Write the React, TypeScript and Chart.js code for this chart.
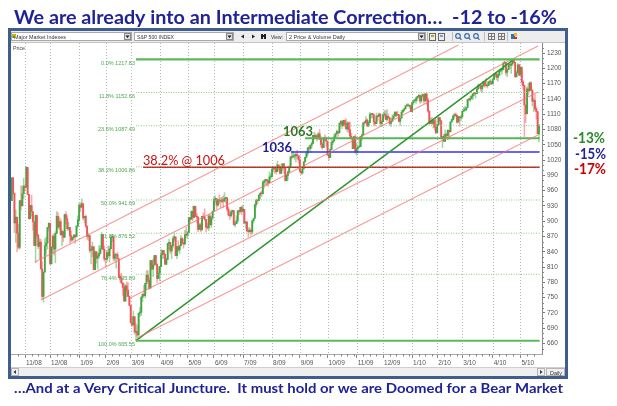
import React, { useEffect, useRef } from 'react';
import { Chart, registerables } from 'chart.js';

Chart.register(...registerables);

// ---------------- data ----------------
const monthLabels = ['10/08', '11/08', '12/08', '1/09', '2/09', '3/09', '4/09', '5/09', '6/09', '7/09', '8/09', '9/09', '10/09', '11/09', '12/09', '1/10', '2/10', '3/10', '4/10', '5/10'];
const tradingDaysPerMonth = [10, 19, 22, 20, 19, 22, 21, 20, 22, 22, 21, 21, 22, 20, 22, 19, 19, 23, 21, 15];
const firstOpen = 940.55;

const closes = [
  985.40, 955.05, 896.78, 908.11, 876.77, 848.92, 940.51, 930.09, 954.09, 968.75,
  966.30, 1005.75, 952.77, 904.88, 930.99, 919.21, 898.95, 852.30, 911.29, 873.29, 850.75, 859.12, 806.58, 752.44, 800.03, 851.81, 857.39, 887.68, 896.24,
  816.21, 848.81, 870.74, 845.22, 876.07, 909.70, 888.67, 899.24, 873.59, 879.73, 868.57, 913.18, 904.42, 885.28, 887.88, 871.63, 863.16, 868.15, 872.80, 869.42, 890.64, 903.25,
  931.80, 927.45, 934.70, 906.65, 909.73, 890.35, 870.26, 871.79, 842.62, 843.74, 850.12, 805.22, 840.24, 827.50, 831.95, 836.57, 845.71, 874.09, 845.14, 825.88,
  825.44, 838.51, 832.23, 845.85, 868.60, 869.89, 827.16, 833.74, 835.19, 826.84, 789.17, 788.42, 778.94, 770.05, 743.33, 773.14, 764.90, 752.83, 735.09,
  700.82, 696.33, 712.87, 682.55, 683.38, 676.53, 719.60, 721.36, 750.74, 756.55, 753.89, 778.12, 794.35, 784.04, 768.54, 822.92, 806.12, 813.88, 832.86, 815.94, 787.53, 797.87,
  811.08, 834.38, 842.50, 835.48, 815.55, 825.16, 856.56, 858.73, 841.50, 852.06, 865.30, 869.60, 832.39, 850.08, 843.55, 851.92, 866.23, 857.51, 855.16, 873.64, 872.81,
  877.52, 907.24, 903.80, 919.53, 907.39, 929.23, 909.24, 908.35, 883.92, 893.07, 882.88, 909.71, 908.13, 903.47, 888.33, 887.00, 910.33, 893.06, 906.83, 919.14,
  942.87, 944.74, 931.76, 942.46, 940.09, 939.14, 942.43, 939.15, 944.89, 946.21, 923.72, 911.97, 910.71, 918.37, 921.23, 893.04, 895.10, 900.94, 920.26, 918.90, 927.23, 919.32,
  923.33, 896.42, 898.72, 881.03, 879.56, 882.68, 879.13, 901.05, 905.84, 932.68, 940.74, 940.38, 951.13, 954.58, 954.07, 976.29, 979.26, 982.18, 979.62, 975.15, 986.75, 987.48,
  1002.63, 1005.65, 1002.72, 997.08, 1010.48, 1007.10, 994.35, 1005.81, 1012.73, 1004.09, 979.73, 989.67, 996.46, 1007.37, 1026.13, 1025.57, 1028.00, 1028.12, 1030.98, 1028.93, 1020.62,
  998.04, 994.75, 1003.24, 1016.40, 1025.39, 1033.37, 1044.14, 1042.73, 1049.34, 1052.63, 1068.76, 1065.49, 1068.30, 1064.66, 1071.66, 1060.87, 1050.78, 1044.38, 1062.98, 1060.61, 1057.08,
  1029.85, 1025.21, 1040.46, 1054.72, 1057.58, 1065.48, 1071.49, 1076.19, 1073.19, 1092.02, 1096.56, 1087.68, 1097.91, 1091.06, 1081.40, 1092.91, 1079.60, 1066.95, 1063.41, 1042.63, 1066.11, 1036.19,
  1042.88, 1045.41, 1046.50, 1066.63, 1069.30, 1093.08, 1093.01, 1098.51, 1087.24, 1093.48, 1109.30, 1110.32, 1109.80, 1094.90, 1091.38, 1106.24, 1105.65, 1110.63, 1091.49, 1095.63,
  1108.86, 1109.24, 1099.92, 1105.98, 1103.25, 1091.94, 1095.95, 1102.35, 1106.41, 1114.11, 1107.93, 1109.18, 1096.08, 1102.47, 1114.05, 1118.02, 1120.59, 1126.48, 1127.78, 1126.20, 1126.42, 1115.10,
  1132.99, 1136.52, 1137.14, 1141.69, 1144.98, 1146.98, 1136.22, 1145.68, 1148.46, 1136.03, 1150.23, 1138.04, 1116.48, 1091.76, 1096.78, 1092.17, 1097.50, 1084.53, 1073.87,
  1089.19, 1103.32, 1097.28, 1063.11, 1066.19, 1056.74, 1070.52, 1068.13, 1078.47, 1075.51, 1094.87, 1099.51, 1106.75, 1109.17, 1108.01, 1094.60, 1105.24, 1102.94, 1104.49,
  1115.71, 1118.31, 1118.79, 1122.97, 1138.70, 1138.50, 1140.45, 1145.61, 1150.24, 1149.99, 1150.51, 1159.46, 1166.21, 1165.83, 1159.90, 1165.81, 1174.17, 1167.72, 1165.73, 1166.59, 1173.22, 1173.27, 1169.43,
  1178.10, 1187.44, 1189.44, 1182.45, 1186.44, 1194.37, 1196.48, 1197.30, 1210.65, 1211.67, 1192.13, 1197.52, 1207.17, 1205.94, 1208.67, 1217.28, 1212.05, 1183.71, 1191.36, 1206.78, 1186.69,
  1202.26, 1173.60, 1165.87, 1128.15, 1110.88, 1159.73, 1155.79, 1171.67, 1157.44, 1135.68, 1136.94, 1120.80, 1115.05, 1071.59, 1087.69,
];

const highs = [
  985.4, 985.4, 955.1, 922.5, 896.3, 893.8, 940.5, 969.0, 970.0, 984.4,
  971.2, 1007.5, 1005.0, 951.5, 931.5, 951.2, 918.0, 898.0, 913.0, 911.3, 874.0, 865.9, 864.6, 820.5, 801.0, 865.6, 868.9, 888.0, 896.3,
  888.6, 850.5, 873.0, 875.6, 879.4, 918.9, 916.3, 908.3, 904.6, 883.0, 880.4, 914.0, 918.9, 911.0, 897.8, 887.4, 880.4, 869.8, 873.7, 873.7, 891.1, 911.0,
  934.7, 936.6, 943.9, 927.5, 910.0, 911.9, 890.4, 877.0, 871.8, 851.6, 858.9, 849.6, 841.7, 840.2, 838.2, 852.5, 851.5, 877.9, 874.1, 851.7,
  825.9, 842.6, 851.9, 850.6, 870.7, 874.2, 868.1, 838.2, 835.2, 839.4, 818.5, 796.2, 797.6, 778.7, 777.5, 775.5, 781.0, 779.4, 751.3,
  735.1, 712.4, 724.1, 708.9, 699.1, 695.3, 719.6, 730.9, 752.6, 758.3, 774.5, 778.1, 803.0, 803.2, 788.1, 823.4, 823.4, 826.0, 832.9, 833.0, 815.9, 810.9,
  811.1, 845.6, 842.5, 842.5, 835.5, 828.4, 856.9, 864.3, 856.9, 853.0, 870.4, 875.6, 868.3, 850.1, 861.8, 852.9, 871.8, 868.3, 864.5, 882.1, 888.7,
  880.2, 907.9, 907.7, 920.3, 929.6, 930.2, 922.0, 915.6, 908.4, 896.5, 896.4, 909.7, 916.4, 924.6, 903.5, 896.7, 911.8, 913.8, 909.5, 920.0,
  947.8, 949.4, 942.5, 942.5, 951.7, 946.3, 946.9, 949.8, 956.2, 946.4, 942.4, 928.0, 918.4, 921.9, 921.9, 918.1, 898.7, 910.9, 921.4, 922.0, 927.7, 930.0,
  931.9, 921.2, 898.7, 898.6, 886.8, 887.9, 883.6, 901.1, 905.8, 933.0, 943.9, 941.9, 951.6, 956.5, 959.8, 979.4, 979.8, 982.5, 982.4, 977.8, 996.7, 993.2,
  1003.6, 1007.1, 1006.6, 1008.0, 1018.0, 1010.1, 1005.8, 1012.8, 1013.1, 1012.6, 998.1, 991.2, 999.0, 1008.9, 1027.6, 1037.8, 1037.8, 1032.5, 1033.3, 1039.5, 1025.2,
  1028.5, 1000.3, 1003.4, 1016.5, 1025.4, 1036.3, 1044.1, 1048.1, 1049.7, 1056.0, 1068.8, 1074.8, 1071.5, 1067.3, 1073.8, 1080.2, 1066.3, 1053.5, 1065.1, 1069.6, 1065.4,
  1054.1, 1030.6, 1042.6, 1060.5, 1058.0, 1070.7, 1073.0, 1079.5, 1075.3, 1093.2, 1096.6, 1094.7, 1098.6, 1098.6, 1101.4, 1095.8, 1094.2, 1094.9, 1072.5, 1063.3, 1066.8, 1070.1,
  1052.2, 1046.4, 1061.0, 1066.6, 1071.3, 1093.1, 1096.4, 1105.4, 1101.2, 1097.3, 1113.7, 1110.3, 1111.1, 1106.3, 1094.7, 1112.4, 1107.6, 1112.4, 1101.7, 1097.2,
  1111.2, 1117.2, 1117.3, 1119.1, 1110.7, 1103.3, 1095.9, 1108.9, 1110.7, 1114.8, 1114.1, 1116.2, 1109.2, 1102.5, 1117.7, 1118.8, 1121.6, 1126.5, 1130.4, 1130.4, 1126.4, 1127.6,
  1133.9, 1136.6, 1139.2, 1142.5, 1145.4, 1149.7, 1143.0, 1148.4, 1150.4, 1147.8, 1150.4, 1150.2, 1141.6, 1115.5, 1102.9, 1103.7, 1099.5, 1101.3, 1100.4,
  1089.4, 1104.7, 1102.7, 1097.3, 1067.1, 1071.2, 1079.3, 1073.7, 1080.0, 1077.8, 1095.0, 1101.0, 1108.2, 1112.4, 1112.3, 1108.6, 1106.4, 1103.5, 1107.2,
  1116.0, 1123.7, 1125.6, 1123.7, 1139.4, 1141.1, 1145.4, 1148.3, 1150.2, 1153.4, 1150.5, 1160.3, 1169.2, 1167.1, 1169.2, 1167.8, 1174.7, 1174.2, 1180.7, 1173.9, 1174.9, 1177.8, 1174.9,
  1181.4, 1187.7, 1191.8, 1189.6, 1188.6, 1194.7, 1199.2, 1199.7, 1210.7, 1213.9, 1210.2, 1197.9, 1208.6, 1210.9, 1210.3, 1217.3, 1217.8, 1212.0, 1195.0, 1209.4, 1207.9,
  1205.1, 1197.5, 1175.9, 1167.6, 1127.8, 1163.7, 1170.5, 1173.6, 1173.6, 1157.2, 1141.9, 1148.7, 1124.9, 1115.0, 1090.2,
];

const lows = [
  943.0, 952.5, 877.6, 858.4, 840.5, 845.8, 845.3, 922.3, 931.0, 944.6,
  960.3, 971.5, 952.0, 904.0, 906.0, 910.0, 882.0, 852.0, 818.7, 868.0, 846.0, 826.8, 806.0, 747.8, 741.0, 801.0, 834.9, 845.0, 881.0,
  815.7, 817.0, 836.5, 833.3, 818.4, 876.0, 885.4, 884.0, 872.0, 851.4, 860.0, 868.6, 895.0, 882.0, 882.0, 857.0, 860.0, 861.4, 866.5, 857.0, 870.6, 889.0,
  899.4, 919.5, 927.3, 902.4, 896.8, 888.3, 864.3, 862.0, 838.7, 817.0, 830.7, 804.5, 804.3, 817.7, 806.1, 827.7, 835.7, 845.7, 843.4, 821.7,
  811.0, 821.1, 829.2, 819.9, 845.8, 860.4, 822.9, 822.3, 808.1, 825.2, 789.1, 780.4, 777.0, 754.3, 743.3, 743.4, 751.9, 751.8, 734.5,
  700.0, 692.9, 698.4, 677.9, 665.6, 672.9, 679.3, 713.9, 714.8, 742.5, 753.4, 749.9, 765.6, 781.8, 766.2, 772.3, 805.5, 791.4, 814.3, 814.5, 779.8, 787.5,
  783.3, 811.1, 826.7, 826.7, 814.5, 814.8, 825.2, 845.4, 836.5, 826.3, 847.0, 860.9, 832.4, 826.8, 840.6, 835.6, 853.9, 854.6, 847.1, 855.2, 868.2,
  866.1, 879.2, 897.3, 903.9, 901.4, 909.8, 908.7, 896.5, 879.6, 883.7, 878.9, 883.7, 905.2, 901.4, 879.0, 884.9, 881.5, 891.9, 887.6, 903.3,
  923.3, 938.5, 923.8, 929.3, 934.1, 926.4, 936.7, 927.1, 939.0, 935.7, 919.6, 911.6, 903.8, 907.9, 913.6, 893.0, 888.9, 896.8, 896.3, 913.0, 916.2, 912.9,
  920.3, 896.4, 886.4, 879.9, 869.3, 878.5, 872.8, 875.3, 896.5, 910.0, 927.5, 934.8, 940.9, 943.2, 947.9, 953.3, 965.9, 972.3, 969.4, 968.7, 976.1, 982.4,
  990.2, 996.7, 994.3, 992.5, 1001.2, 1000.9, 992.4, 993.4, 1000.8, 994.6, 978.5, 980.6, 980.6, 996.4, 1009.1, 1022.5, 1026.2, 1021.6, 1016.2, 1023.1, 1014.6,
  996.3, 991.9, 992.3, 1001.7, 1017.3, 1023.9, 1028.9, 1039.3, 1035.0, 1043.4, 1052.9, 1061.2, 1064.3, 1057.5, 1066.4, 1060.4, 1045.9, 1041.2, 1045.2, 1057.8, 1045.9,
  1029.6, 1019.9, 1025.9, 1040.5, 1050.2, 1057.6, 1063.4, 1071.6, 1066.7, 1076.2, 1085.9, 1081.5, 1086.2, 1086.2, 1080.9, 1075.3, 1073.8, 1063.0, 1060.6, 1042.2, 1043.0, 1033.4,
  1029.4, 1033.9, 1045.2, 1046.5, 1059.3, 1069.3, 1087.4, 1093.8, 1085.7, 1085.1, 1093.9, 1102.2, 1102.7, 1088.3, 1086.8, 1094.2, 1097.6, 1106.3, 1086.9, 1085.4,
  1097.6, 1105.1, 1098.7, 1096.5, 1100.8, 1088.6, 1085.9, 1096.5, 1101.4, 1107.2, 1105.3, 1107.9, 1094.3, 1087.9, 1102.5, 1114.0, 1116.0, 1121.1, 1126.5, 1126.1, 1121.9, 1114.8,
  1116.6, 1129.7, 1133.9, 1131.3, 1136.2, 1142.0, 1131.4, 1133.2, 1143.8, 1131.4, 1135.8, 1129.3, 1114.0, 1090.2, 1092.3, 1089.9, 1083.1, 1078.5, 1071.6,
  1073.9, 1087.9, 1093.2, 1063.1, 1044.5, 1056.5, 1057.0, 1062.2, 1060.1, 1062.1, 1075.5, 1094.7, 1097.7, 1100.8, 1105.4, 1092.2, 1094.6, 1086.0, 1097.6,
  1105.4, 1116.0, 1116.6, 1116.4, 1125.4, 1136.8, 1134.9, 1140.1, 1138.9, 1146.1, 1141.7, 1150.5, 1159.5, 1161.2, 1155.3, 1152.9, 1163.8, 1163.3, 1165.1, 1161.5, 1167.8, 1167.3, 1168.6,
  1170.7, 1178.7, 1182.8, 1177.2, 1175.1, 1186.0, 1194.7, 1188.2, 1198.7, 1208.5, 1186.8, 1183.7, 1199.3, 1198.9, 1190.2, 1205.1, 1211.1, 1181.6, 1182.8, 1191.4, 1186.3,
  1188.6, 1168.1, 1158.2, 1065.8, 1094.2, 1111.1, 1147.7, 1155.8, 1156.1, 1126.1, 1114.9, 1117.2, 1100.7, 1071.6, 1055.9,
];

const yTickValues = [660, 690, 720, 750, 780, 810, 840, 870, 900, 930, 960, 990, 1020, 1050, 1080, 1110, 1140, 1170, 1200, 1230];

const fibPercents = ['0.0%', '11.8%', '23.6%', '38.2%', '50.0%', '61.8%', '76.4%', '100.0%'];
const fibValues = [1217.83, 1152.66, 1087.49, 1006.86, 941.69, 876.52, 795.89, 665.55];
const fibStartDay = 94;
const lastDay = 399.5;

const keyLevels = [1063, 1036, 1006];
const keyLevelTags = ['1063', '1036', '38.2% @ 1006'];
const keyLevelPercents = ['-13%', '-15%', '-17%'];
const keyLevelStartDays = [222, 211.3, 99.3];

// parallel channel lines: [startDay, startPrice, endDay, endPrice]
const channelLines = [
  [17.6, 820.0, 338.0, 1246.0],
  [22.1, 745.5, 398.3, 1243.9],
  [88.0, 747.4, 398.3, 1153.6],
  [94.8, 670.9, 398.3, 1069.3],
];
// main up-trend line from the March 2009 low to the April 2010 high
const trendLine = [94, 665.55, 380, 1217.83];

const titleText = 'We are already into an Intermediate Correction\u2026  -12 to -16%';
const captionText = '\u2026And at a Very Critical Juncture.  It must hold or we are Doomed for a Bear Market';

// ---------------- styling constants ----------------
const X_MIN = -0.6;
const X_MAX = 401.3;
const Y_MIN = 639.5;
const Y_MAX = 1249.8;
const NAVY = '#1f2396';
const UP_BODY = '#3fa841';
const DOWN_BODY = '#f25357';
const UP_WICK = 'rgba(70,175,72,0.5)';
const DOWN_WICK = 'rgba(242,90,94,0.5)';
const levelColors = ['#59b359', '#3434f0', '#c81e1e'];
const tagColors = ['#2b7a1f', '#1d1d93', '#cc1111'];
const pctColors = ['#2a8a2a', '#1f1f9e', '#cc0000'];

const monthStarts: number[] = [];
{
  let acc = 0;
  for (const d of tradingDaysPerMonth) {
    monthStarts.push(acc);
    acc += d;
  }
}
const monthTickDays = monthStarts.slice(1);
const monthTickLabels = monthLabels.slice(1);

function fitText(ctx: CanvasRenderingContext2D, text: string, x: number, baseline: number, width: number, font: string, color: string) {
  ctx.save();
  ctx.font = font;
  ctx.fillStyle = color;
  ctx.textAlign = 'left';
  ctx.textBaseline = 'alphabetic';
  const w = ctx.measureText(text).width || 1;
  ctx.translate(x, baseline);
  ctx.scale(width / w, 1);
  ctx.fillText(text, 0, 0);
  ctx.restore();
}

function drawToolbar(ctx: CanvasRenderingContext2D) {
  ctx.save();
  ctx.fillStyle = '#ededed';
  ctx.fillRect(11, 31, 554, 12);
  ctx.strokeStyle = '#c4c4c4';
  ctx.lineWidth = 1;
  ctx.beginPath();
  ctx.moveTo(11, 42.5);
  ctx.lineTo(565, 42.5);
  ctx.stroke();
  const combo = (x: number, w: number, text: string, tw: number) => {
    ctx.fillStyle = '#ffffff';
    ctx.fillRect(x, 32, w, 9);
    ctx.strokeStyle = '#a8a8a8';
    ctx.strokeRect(x + 0.5, 32.5, w - 1, 8);
    ctx.fillStyle = '#e0e0e0';
    ctx.fillRect(x + w - 8, 33, 7, 7);
    ctx.strokeStyle = '#8a8a8a';
    ctx.strokeRect(x + w - 7.5, 33.5, 6, 6);
    ctx.fillStyle = '#111';
    ctx.beginPath();
    ctx.moveTo(x + w - 6.5, 35.5);
    ctx.lineTo(x + w - 2.5, 35.5);
    ctx.lineTo(x + w - 4.5, 38);
    ctx.closePath();
    ctx.fill();
    fitText(ctx, text, x + 3, 39, tw, '6px Arial', '#333');
  };
  combo(11, 121, 'Major Market Indexes', 52);
  ctx.fillStyle = '#d9b000';
  ctx.fillRect(12, 34, 4, 4);
  ctx.fillStyle = '#3a9a3a';
  ctx.fillRect(13, 36, 2, 2);
  combo(134, 100, 'S&P 500 INDEX', 37);
  // arrows
  ctx.fillStyle = '#222';
  ctx.beginPath();
  ctx.moveTo(244, 34.5); ctx.lineTo(241, 36.5); ctx.lineTo(244, 38.5); ctx.closePath(); ctx.fill();
  ctx.beginPath();
  ctx.moveTo(252, 34.5); ctx.lineTo(255, 36.5); ctx.lineTo(252, 38.5); ctx.closePath(); ctx.fill();
  // binoculars
  ctx.fillRect(261, 34, 2, 5);
  ctx.fillRect(264, 34, 2, 5);
  ctx.fillRect(262, 35, 3, 2);
  fitText(ctx, 'View:', 271, 39, 12, '6px Arial', '#333');
  combo(286, 140, '2 Price & Volume Daily', 56);
  // icons
  const icons = [429, 438, 455, 464, 473, 488, 498, 511];
  icons.forEach((x, k) => {
    if (k < 2) {
      ctx.strokeStyle = '#666';
      ctx.strokeRect(x + 0.5, 33.5, 6, 7);
      ctx.fillStyle = k === 0 ? '#c9a400' : '#7d9cc8';
      ctx.fillRect(x + 2, 35, 3, 2);
    } else if (k < 5) {
      ctx.strokeStyle = '#3b6fae';
      ctx.lineWidth = 1.2;
      ctx.beginPath();
      ctx.arc(x + 3, 36, 2.3, 0, Math.PI * 2);
      ctx.stroke();
      ctx.beginPath();
      ctx.moveTo(x + 4.6, 37.6);
      ctx.lineTo(x + 6.5, 39.8);
      ctx.stroke();
      ctx.lineWidth = 1;
    } else if (k < 7) {
      ctx.strokeStyle = '#777';
      ctx.strokeRect(x + 0.5, 33.5, 6, 6);
      ctx.beginPath();
      ctx.moveTo(x + 3.5, 33.5); ctx.lineTo(x + 3.5, 39.5);
      ctx.moveTo(x + 0.5, 36.5); ctx.lineTo(x + 6.5, 36.5);
      ctx.stroke();
    } else {
      ctx.fillStyle = '#2f6fc4';
      ctx.fillRect(x, 34, 4, 5);
      ctx.fillStyle = '#e8c400';
      ctx.fillRect(x + 3, 33, 3, 3);
      ctx.fillStyle = '#d23';
      ctx.fillRect(x + 3, 37, 3, 2);
    }
  });
  ctx.strokeStyle = '#bdbdbd';
  [427, 452, 484, 507].forEach((x) => {
    ctx.beginPath();
    ctx.moveTo(x + 0.5, 32);
    ctx.lineTo(x + 0.5, 41);
    ctx.stroke();
  });
  ctx.restore();
}

const decorPlugin = {
  id: 'decor',
  beforeDraw(chart: any) {
    const ctx: CanvasRenderingContext2D = chart.ctx;
    ctx.save();
    ctx.fillStyle = '#ffffff';
    ctx.fillRect(0, 0, chart.width, chart.height);
    // window frame
    ctx.fillStyle = '#3f5e8e';
    ctx.fillRect(8, 28, 560, 351);
    ctx.fillStyle = '#ffffff';
    ctx.fillRect(11, 31, 554, 345);
    drawToolbar(ctx);
    // x-axis band lower edge and scrollbar
    ctx.strokeStyle = '#cfcfcf';
    ctx.beginPath();
    ctx.moveTo(11, 367.5);
    ctx.lineTo(565, 367.5);
    ctx.stroke();
    ctx.fillStyle = '#efefef';
    ctx.fillRect(11, 368, 554, 8);
    ctx.strokeStyle = '#b5b5b5';
    ctx.strokeRect(11.5, 368.5, 7, 7);
    ctx.strokeRect(537.5, 368.5, 7, 7);
    ctx.strokeRect(546.5, 368.5, 18, 7);
    ctx.fillStyle = '#333';
    ctx.beginPath();
    ctx.moveTo(16, 370); ctx.lineTo(13.5, 372); ctx.lineTo(16, 374); ctx.closePath(); ctx.fill();
    ctx.beginPath();
    ctx.moveTo(540, 370); ctx.lineTo(542.5, 372); ctx.lineTo(540, 374); ctx.closePath(); ctx.fill();
    fitText(ctx, 'Daily', 550, 374.5, 12, '6px Arial', '#333');
    // Price label
    fitText(ctx, 'Price', 13, 50, 12, '6px Arial', '#444');
    ctx.restore();
  },
  beforeDatasetsDraw(chart: any) {
    const ctx: CanvasRenderingContext2D = chart.ctx;
    const xs = chart.scales.x;
    const area = chart.chartArea;
    ctx.save();
    ctx.strokeStyle = '#b9b9b9';
    ctx.lineWidth = 1;
    ctx.setLineDash([1, 2]);
    monthTickDays.forEach((d) => {
      const x = Math.round(xs.getPixelForValue(d)) + 0.5;
      ctx.beginPath();
      ctx.moveTo(x, area.top);
      ctx.lineTo(x, area.bottom);
      ctx.stroke();
    });
    ctx.restore();
  },
  afterDraw(chart: any) {
    const ctx: CanvasRenderingContext2D = chart.ctx;
    const xs = chart.scales.x;
    const ys = chart.scales.y;
    const area = chart.chartArea;
    ctx.save();
    // minor ticks on the x axis (weekly)
    ctx.strokeStyle = '#888';
    ctx.lineWidth = 1;
    monthStarts.forEach((start, m) => {
      const end = start + tradingDaysPerMonth[m];
      for (let d = start + 5; d < end - 1; d += 5) {
        const x = Math.round(xs.getPixelForValue(d)) + 0.5;
        ctx.beginPath();
        ctx.moveTo(x, area.bottom);
        ctx.lineTo(x, area.bottom + 2.5);
        ctx.stroke();
      }
    });
    // minor ticks on the y axis
    for (let v = 650; v <= 1240; v += 10) {
      if (v % 30 === 0) continue;
      const y = Math.round(ys.getPixelForValue(v)) + 0.5;
      ctx.beginPath();
      ctx.moveTo(area.right, y);
      ctx.lineTo(area.right + 2, y);
      ctx.stroke();
    }
    // fib labels
    const fx = xs.getPixelForValue(fibStartDay) - 1;
    fibPercents.forEach((p, k) => {
      ctx.font = '5.5px Arial';
      ctx.fillStyle = '#4fa84f';
      ctx.textAlign = 'right';
      ctx.textBaseline = 'top';
      ctx.fillText(p + ' ' + fibValues[k].toFixed(2), fx, ys.getPixelForValue(fibValues[k]) + 1);
    });
    // key level tags
    const y1063 = ys.getPixelForValue(keyLevels[0]);
    const y1036 = ys.getPixelForValue(keyLevels[1]);
    const y1006 = ys.getPixelForValue(keyLevels[2]);
    fitText(ctx, keyLevelTags[0], xs.getPixelForValue(205.3), y1063 - 2.5, 30, 'bold 14px Lato', tagColors[0]);
    fitText(ctx, keyLevelTags[1], xs.getPixelForValue(189.4), y1036 + 0.5, 30, 'bold 14px Lato', tagColors[1]);
    fitText(ctx, keyLevelTags[2], xs.getPixelForValue(keyLevelStartDays[2]), y1006 - 2, 82, '13px Lato', tagColors[2]);
    // percent tags outside the frame
    fitText(ctx, keyLevelPercents[0], 573, y1063 + 5, 32, 'bold 16px Lato', pctColors[0]);
    fitText(ctx, keyLevelPercents[1], 575, y1036 + 7, 31, 'bold 16px Lato', pctColors[1]);
    fitText(ctx, keyLevelPercents[2], 574, y1006 + 7, 32, 'bold 16px Lato', pctColors[2]);
    // title + caption
    fitText(ctx, titleText, 14, 24, 543, 'bold 19px Lato', NAVY);
    fitText(ctx, captionText, 14, 393, 549, 'bold 14px Lato', NAVY);
    ctx.restore();
  },
};

function segment(x1: number, y1: number, x2: number, y2: number, color: string, width: number, dash: number[] = []) {
  return {
    type: 'line' as const,
    data: [
      { x: x1, y: y1 },
      { x: x2, y: y2 },
    ],
    borderColor: color,
    borderWidth: width,
    borderDash: dash,
    pointRadius: 0,
    pointHoverRadius: 0,
    fill: false,
    tension: 0,
    order: 1,
  };
}

export default function App() {
  const canvasRef = useRef<HTMLCanvasElement | null>(null);

  useEffect(() => {
    const canvas = canvasRef.current;
    if (!canvas) return;
    const n = Math.min(closes.length, highs.length, lows.length);
    const opens = closes.map((c, i) => (i === 0 ? firstOpen : closes[i - 1]));
    const up = (i: number) => closes[i] >= opens[i];

    const wickData = [] as any[];
    const bodyData = [] as any[];
    const wickColors: string[] = [];
    const bodyColors: string[] = [];
    for (let i = 0; i < n; i++) {
      wickData.push({ x: i, y: [lows[i], highs[i]] });
      bodyData.push({ x: i, y: [opens[i], closes[i]] });
      wickColors.push(up(i) ? UP_WICK : DOWN_WICK);
      bodyColors.push(up(i) ? UP_BODY : DOWN_BODY);
    }

    const datasets: any[] = [];
    datasets.push({
      type: 'bar',
      data: wickData,
      backgroundColor: wickColors,
      borderWidth: 0,
      barThickness: 0.9,
      grouped: false,
      order: 6,
    });
    datasets.push({
      type: 'bar',
      data: bodyData,
      backgroundColor: bodyColors,
      borderWidth: 0,
      barThickness: 1.2,
      minBarLength: 1,
      grouped: false,
      order: 5,
    });
    // fib retracement levels
    fibValues.forEach((v, k) => {
      const solid = k === 0 || k === fibValues.length - 1;
      datasets.push(segment(fibStartDay, v, lastDay, v, solid ? '#5cb85c' : '#86cc86', solid ? 2.2 : 1, solid ? [] : [1, 1.5]));
    });
    // channel lines
    channelLines.forEach((c) => {
      datasets.push(segment(c[0], c[1], c[2], c[3], 'rgba(244,110,110,0.7)', 1.1));
    });
    // trend line
    datasets.push(segment(trendLine[0], trendLine[1], trendLine[2], trendLine[3], '#2f962f', 1.5));
    // key levels
    keyLevels.forEach((v, k) => {
      datasets.push(segment(keyLevelStartDays[k], v, lastDay, v, levelColors[k], k === 0 ? 2 : 1.5));
    });

    const chart = new Chart(canvas, {
      type: 'bar',
      data: { datasets },
      options: {
        animation: false,
        responsive: false,
        maintainAspectRatio: false,
        devicePixelRatio: 1,
        events: [],
        layout: { padding: { left: 11, top: 43, right: 52, bottom: 39 } },
        plugins: {
          legend: { display: false },
          tooltip: { enabled: false },
          title: { display: false },
        },
        scales: {
          x: {
            type: 'linear',
            position: 'bottom',
            min: X_MIN,
            max: X_MAX,
            offset: false,
            grid: {
              offset: false,
              drawOnChartArea: false,
              drawTicks: true,
              tickLength: 4,
              color: '#888',
            },
            border: { display: true, color: '#a8a8a8' },
            ticks: {
              autoSkip: false,
              maxRotation: 0,
              minRotation: 0,
              align: 'start',
              labelOffset: 1,
              padding: 1,
              color: '#555',
              font: { size: 6.5, family: 'Arial' },
              callback: (value: any) => {
                const k = monthTickDays.indexOf(Number(value));
                return k >= 0 ? monthTickLabels[k] : '';
              },
            },
            afterBuildTicks: (scale: any) => {
              scale.ticks = monthTickDays.map((d) => ({ value: d }));
            },
            afterFit: (scale: any) => {
              scale.height = 13;
            },
          },
          y: {
            type: 'linear',
            position: 'right',
            min: Y_MIN,
            max: Y_MAX,
            beginAtZero: false,
            grid: {
              drawOnChartArea: false,
              drawTicks: true,
              tickLength: 3,
              color: '#777',
            },
            border: { display: true, color: '#8a8a8a' },
            ticks: {
              padding: 2,
              color: '#555',
              font: { size: 6.5, family: 'Arial' },
              callback: (value: any) => String(value),
            },
            afterBuildTicks: (scale: any) => {
              scale.ticks = yTickValues.map((v) => ({ value: v }));
            },
            afterFit: (scale: any) => {
              scale.width = 23;
            },
          },
        },
      },
      plugins: [decorPlugin],
    } as any);

    return () => {
      chart.destroy();
    };
  }, []);

  return (
    <div style={{ position: 'fixed', left: 0, top: 0, width: 617, height: 406, background: '#ffffff' }}>
      <canvas ref={canvasRef} width={617} height={406} style={{ display: 'block', width: 617, height: 406 }} />
    </div>
  );
}
